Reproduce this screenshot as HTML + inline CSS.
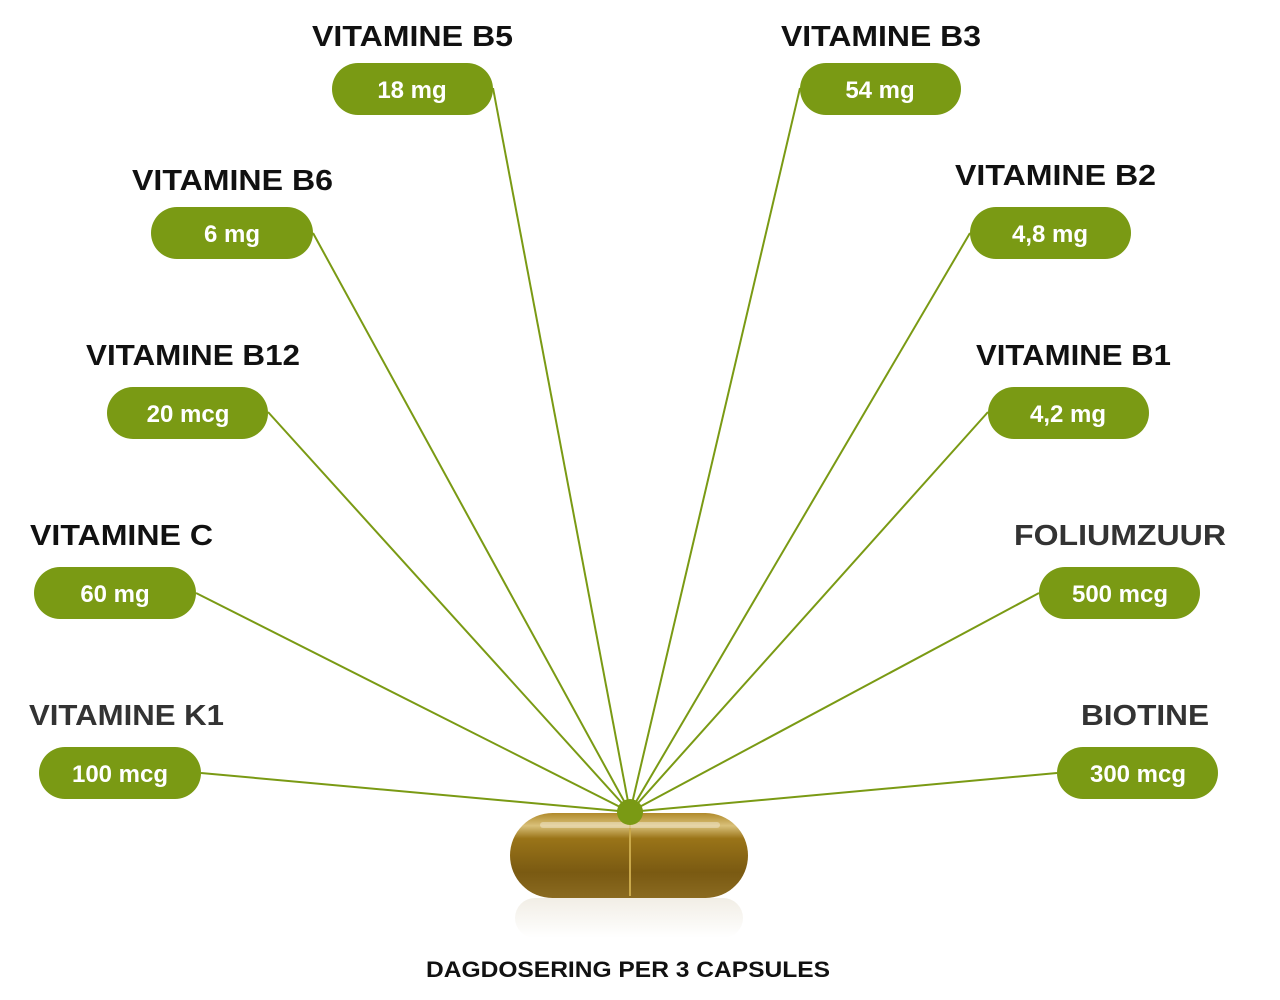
<!DOCTYPE html>
<html><head><meta charset="utf-8"><style>
html,body{margin:0;padding:0;background:#fff;}
svg{display:block;}
text{font-family:"Liberation Sans",sans-serif;font-weight:bold;}
</style></head><body>
<svg width="1280" height="1000" viewBox="0 0 1280 1000" xmlns="http://www.w3.org/2000/svg">
<defs>
<linearGradient id="cap" x1="0" y1="0" x2="0" y2="1">
<stop offset="0" stop-color="#b08a2a"/><stop offset="0.15" stop-color="#d9c07a"/><stop offset="0.3" stop-color="#9a7418"/><stop offset="0.7" stop-color="#7a5a12"/><stop offset="1" stop-color="#8a6a20"/>
</linearGradient>
<linearGradient id="refl" x1="0" y1="0" x2="0" y2="1">
<stop offset="0" stop-color="#e8e2d4"/><stop offset="1" stop-color="#fff"/>
</linearGradient>
</defs>
<g stroke="#7a9a14" stroke-width="2" fill="none">
<line x1="493" y1="88" x2="630" y2="812"/>
<line x1="800" y1="88" x2="630" y2="812"/>
<line x1="313" y1="233" x2="630" y2="812"/>
<line x1="970" y1="233" x2="630" y2="812"/>
<line x1="268" y1="412" x2="630" y2="812"/>
<line x1="988" y1="412" x2="630" y2="812"/>
<line x1="196" y1="593" x2="630" y2="812"/>
<line x1="1039" y1="593" x2="630" y2="812"/>
<line x1="201" y1="773" x2="630" y2="812"/>
<line x1="1057" y1="773" x2="630" y2="812"/>
</g>
<rect x="515" y="898" width="228" height="40" rx="20" fill="url(#refl)" opacity="0.6"/>
<rect x="510" y="813" width="238" height="85" rx="42.5" ry="42.5" fill="url(#cap)"/>
<line x1="630" y1="815" x2="630" y2="896" stroke="#c9a84a" stroke-width="2"/>
<rect x="540" y="822" width="180" height="6" rx="3" fill="#fff" opacity="0.35"/>
<circle cx="630" cy="812" r="13" fill="#7a9a14"/>
<g fill="#7a9a14">
<rect x="332" y="63" width="161" height="52" rx="26"/>
<rect x="800" y="63" width="161" height="52" rx="26"/>
<rect x="151" y="207" width="162" height="52" rx="26"/>
<rect x="970" y="207" width="161" height="52" rx="26"/>
<rect x="107" y="387" width="161" height="52" rx="26"/>
<rect x="988" y="387" width="161" height="52" rx="26"/>
<rect x="34" y="567" width="162" height="52" rx="26"/>
<rect x="1039" y="567" width="161" height="52" rx="26"/>
<rect x="39" y="747" width="162" height="52" rx="26"/>
<rect x="1057" y="747" width="161" height="52" rx="26"/>
</g>
<g fill="#fff" font-size="24" text-anchor="middle">
<text x="412" y="98">18 mg</text>
<text x="880" y="98">54 mg</text>
<text x="232" y="242">6 mg</text>
<text x="1050" y="242">4,8 mg</text>
<text x="188" y="422">20 mcg</text>
<text x="1068" y="422">4,2 mg</text>
<text x="115" y="602">60 mg</text>
<text x="1120" y="602">500 mcg</text>
<text x="120" y="782">100 mcg</text>
<text x="1138" y="782">300 mcg</text>
</g>
<g fill="#111" font-size="29" lengthAdjust="spacingAndGlyphs">
<text x="312" y="46" textLength="201" lengthAdjust="spacingAndGlyphs">VITAMINE B5</text>
<text x="781" y="46" textLength="200" lengthAdjust="spacingAndGlyphs">VITAMINE B3</text>
<text x="132" y="190" textLength="201" lengthAdjust="spacingAndGlyphs">VITAMINE B6</text>
<text x="955" y="185" textLength="201" lengthAdjust="spacingAndGlyphs">VITAMINE B2</text>
<text x="86" y="365" textLength="214" lengthAdjust="spacingAndGlyphs">VITAMINE B12</text>
<text x="976" y="365" textLength="195" lengthAdjust="spacingAndGlyphs">VITAMINE B1</text>
<text x="30" y="545" textLength="183" lengthAdjust="spacingAndGlyphs">VITAMINE C</text>
<text x="1014" y="545" fill="#333" textLength="212" lengthAdjust="spacingAndGlyphs">FOLIUMZUUR</text>
<text x="29" y="725" fill="#333" textLength="195" lengthAdjust="spacingAndGlyphs">VITAMINE K1</text>
<text x="1081" y="725" fill="#333" textLength="128" lengthAdjust="spacingAndGlyphs">BIOTINE</text>
</g>
<text x="426" y="977" font-size="22" textLength="404" lengthAdjust="spacingAndGlyphs" fill="#111">DAGDOSERING PER 3 CAPSULES</text>
</svg>
</body></html>
